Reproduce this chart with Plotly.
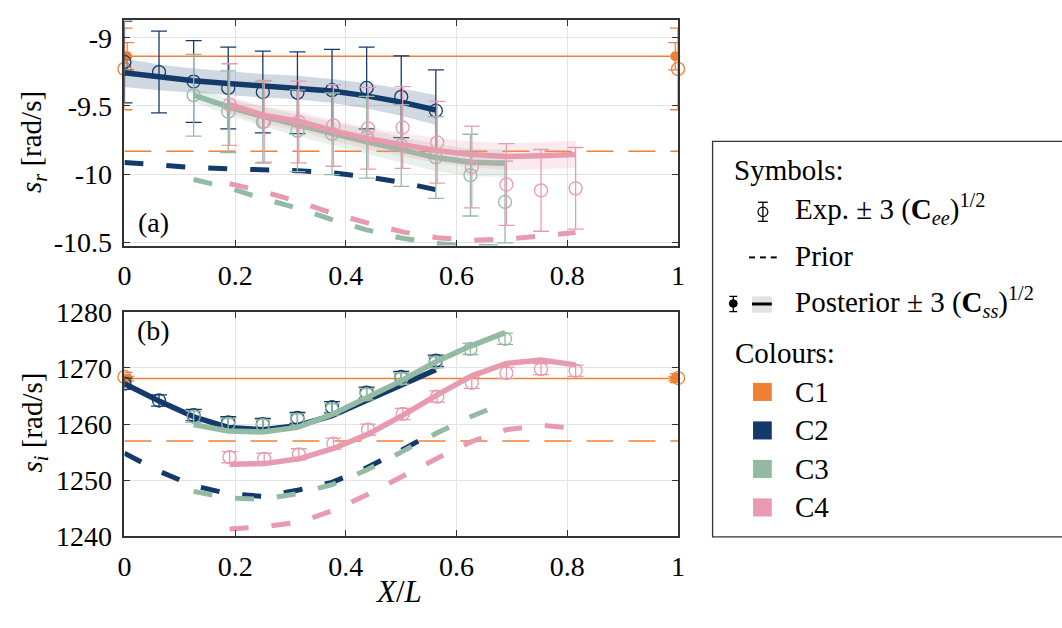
import plotly.graph_objects as go

W, H = 1062, 628

# ---------------- data ----------------
# C1: point measurements at both ends
x_c1_exp = [0.0, 1.0]
x_c1_post = [0.005, 0.995]
c1_sr_exp = [-9.228, -9.228]
c1_sr_post = [-9.135, -9.135]
c1_sr_prior = -9.833
c1_si_exp = [1268.4, 1268.2]
c1_si_post = [1268.1, 1268.1]
c1_si_prior = 1257.0
c1_sr_exp_err = [0.3, 0.3]
c1_sr_post_err = [0.1, 0.1]
c1_si_exp_err = [0.8, 0.8]
c1_si_post_err = [0.4, 0.4]

x_c2 = [0.0, 0.0625, 0.125, 0.1875, 0.25, 0.3125, 0.375, 0.4375, 0.5, 0.5625]
x_c3 = [0.125, 0.1875, 0.25, 0.3125, 0.375, 0.4375, 0.5, 0.5625, 0.625, 0.6875]
x_c4 = [0.19, 0.2525, 0.315, 0.3775, 0.44, 0.5025, 0.565, 0.6275, 0.69, 0.7525, 0.815]

# real part s_r [rad/s]
c2_sr_exp = [-9.177, -9.251, -9.321, -9.368, -9.398, -9.403, -9.384, -9.368, -9.433, -9.535]
c3_sr_exp = [-9.421, -9.542, -9.619, -9.682, -9.705, -9.730, -9.790, -9.878, -10.008, -10.205]
c4_sr_exp = [-9.490, -9.613, -9.618, -9.643, -9.664, -9.658, -9.767, -9.948, -10.077, -10.120, -10.105]
sr_exp_err = 0.3

c2_sr_post = [-9.256, -9.290, -9.315, -9.335, -9.352, -9.365, -9.390, -9.426, -9.472, -9.530]
c3_sr_post = [-9.420, -9.507, -9.577, -9.642, -9.705, -9.763, -9.821, -9.879, -9.914, -9.921]
c4_sr_post = [-9.490, -9.570, -9.612, -9.682, -9.740, -9.786, -9.828, -9.856, -9.872, -9.866, -9.856]

c2_sr_band = [0.105, 0.095, 0.09, 0.087, 0.086, 0.086, 0.088, 0.093, 0.10, 0.11]
c3_sr_band = [0.05, 0.06, 0.07, 0.08, 0.085, 0.09, 0.095, 0.10, 0.10, 0.10]
c4_sr_band = [0.06, 0.065, 0.07, 0.075, 0.08, 0.085, 0.09, 0.095, 0.10, 0.10, 0.10]

c2_sr_prior = [-9.915, -9.935, -9.952, -9.962, -9.968, -9.975, -9.990, -10.020, -10.060, -10.115]
c3_sr_prior = [-10.04, -10.10, -10.18, -10.25, -10.335, -10.41, -10.47, -10.51, -10.53, -10.535]
c4_sr_prior = [-10.07, -10.13, -10.205, -10.29, -10.36, -10.425, -10.468, -10.487, -10.478, -10.455, -10.43]

# imaginary part s_i [rad/s]
c2_si_exp = [1267.2, 1264.2, 1261.6, 1260.3, 1260.0, 1261.1, 1263.0, 1265.6, 1268.4, 1271.3]
c3_si_exp = [1261.3, 1260.0, 1259.8, 1260.8, 1262.6, 1265.3, 1268.1, 1271.0, 1273.4, 1275.2]
c4_si_exp = [1254.1, 1253.8, 1254.6, 1256.5, 1259.0, 1261.8, 1264.9, 1267.35, 1269.1, 1269.8, 1269.5]
si_exp_err = 1.0

c2_si_post = [1267.2, 1264.1, 1261.3, 1259.4, 1259.0, 1259.7, 1261.5, 1264.2, 1267.0, 1269.7]
c3_si_post = [1259.9, 1258.75, 1258.6, 1259.4, 1261.7, 1264.65, 1267.7, 1271.1, 1273.9, 1276.3]
c4_si_post = [1252.85, 1252.95, 1253.8, 1255.65, 1258.2, 1261.55, 1265.2, 1268.6, 1270.8, 1271.4, 1270.55]

c2_si_prior = [1254.8, 1251.6, 1249.0, 1247.6, 1247.1, 1248.2, 1249.6, 1252.2, 1255.3, 1258.7]
c3_si_prior = [1248.0, 1246.8, 1246.6, 1247.6, 1249.2, 1251.8, 1255.0, 1258.3, 1261.3, 1263.8]
c4_si_prior = [1241.3, 1241.7, 1242.5, 1244.6, 1247.5, 1250.8, 1253.9, 1256.9, 1259.0, 1259.8, 1259.2]

x_ticks = [0, 0.2, 0.4, 0.6, 0.8, 1]
x_ticktext = ["0", "0.2", "0.4", "0.6", "0.8", "1"]
sr_ticks = [-10.5, -10, -9.5, -9]
sr_ticktext = ["-10.5", "-10", "-9.5", "-9"]
si_ticks = [1240, 1250, 1260, 1270, 1280]
si_ticktext = ["1240", "1250", "1260", "1270", "1280"]

series_names = ["C1", "C2", "C3", "C4"]
colors = {"C1": "#F08034", "C2": "#143A6B", "C3": "#93BBA3", "C4": "#E89BAF"}
bands = {"C2": "rgba(20,58,107,0.20)", "C3": "rgba(147,187,163,0.22)", "C4": "rgba(232,155,175,0.22)"}

FONT = "Liberation Serif"

fig = go.Figure()


def add_series(name, xs, exp, err, post, band, prior, xa, ya):
    col = colors[name]
    if band is not None:
        up = [p + b for p, b in zip(post, band)]
        lo = [p - b for p, b in zip(post, band)]
        fig.add_trace(go.Scatter(x=xs + xs[::-1], y=up + lo[::-1], fill="toself",
                                 fillcolor=bands[name], line=dict(width=0),
                                 mode="lines", hoverinfo="skip", xaxis=xa, yaxis=ya))
    fig.add_trace(go.Scatter(x=xs, y=prior, mode="lines",
                             line=dict(color=col, width=5, dash="19px,23px"),
                             xaxis=xa, yaxis=ya))
    fig.add_trace(go.Scatter(x=xs, y=post, mode="lines",
                             line=dict(color=col, width=5.5),
                             xaxis=xa, yaxis=ya))
    fig.add_trace(go.Scatter(x=xs, y=exp, mode="markers",
                             marker=dict(symbol="circle-open", size=13, color=col,
                                         line=dict(width=1.3, color=col)),
                             error_y=dict(type="constant", value=err, visible=True,
                                          thickness=1.3, width=8, color=col),
                             xaxis=xa, yaxis=ya))


def add_c1(exp, exp_err, post, post_err, prior, xa, ya):
    col = colors["C1"]
    fig.add_trace(go.Scatter(x=[0, 1], y=[prior, prior], mode="lines",
                             line=dict(color=col, width=1.5, dash="27px,15px"),
                             xaxis=xa, yaxis=ya))
    fig.add_trace(go.Scatter(x=[0, 1], y=[post[0], post[0]], mode="lines",
                             line=dict(color=col, width=1.5),
                             xaxis=xa, yaxis=ya))
    fig.add_trace(go.Scatter(x=x_c1_exp, y=exp, mode="markers", cliponaxis=False,
                             marker=dict(symbol="circle-open", size=13, color=col,
                                         line=dict(width=1.3, color=col)),
                             error_y=dict(type="data", array=exp_err, visible=True,
                                          thickness=1.3, width=8, color=col),
                             xaxis=xa, yaxis=ya))
    fig.add_trace(go.Scatter(x=x_c1_post, y=post, mode="markers", cliponaxis=False,
                             marker=dict(symbol="circle", size=10, color=col),
                             error_y=dict(type="data", array=post_err, visible=True,
                                          thickness=1.3, width=7, color=col),
                             xaxis=xa, yaxis=ya))


# panel (a): real part
add_c1(c1_sr_exp, c1_sr_exp_err, c1_sr_post, c1_sr_post_err, c1_sr_prior, "x", "y")
add_series("C2", x_c2, c2_sr_exp, sr_exp_err, c2_sr_post, c2_sr_band, c2_sr_prior, "x", "y")
add_series("C3", x_c3, c3_sr_exp, sr_exp_err, c3_sr_post, c3_sr_band, c3_sr_prior, "x", "y")
add_series("C4", x_c4, c4_sr_exp, sr_exp_err, c4_sr_post, c4_sr_band, c4_sr_prior, "x", "y")

# panel (b): imaginary part
add_c1(c1_si_exp, c1_si_exp_err, c1_si_post, c1_si_post_err, c1_si_prior, "x2", "y2")
add_series("C2", x_c2, c2_si_exp, si_exp_err, c2_si_post, None, c2_si_prior, "x2", "y2")
add_series("C3", x_c3, c3_si_exp, si_exp_err, c3_si_post, None, c3_si_prior, "x2", "y2")
add_series("C4", x_c4, c4_si_exp, si_exp_err, c4_si_post, None, c4_si_prior, "x2", "y2")


def px(x):
    return x / W


def py(y):
    return 1 - y / H


axis_common = dict(showline=True, linecolor="#333333", linewidth=1.5, mirror="ticks",
                   ticks="inside", ticklen=6, tickcolor="#333333", tickwidth=1.3,
                   showgrid=True, gridcolor="#E3E3E3", gridwidth=1, zeroline=False,
                   tickfont=dict(family=FONT, size=28, color="black"))

x_dom = [px(119), px(680)]
fig.update_layout(
    width=W, height=H, margin=dict(l=0, r=0, t=0, b=0),
    paper_bgcolor="white", plot_bgcolor="white", showlegend=False,
    font=dict(family=FONT, color="black"),
    xaxis=dict(domain=x_dom, range=[0, 1], anchor="y", tickmode="array",
               tickvals=x_ticks, ticktext=x_ticktext, ticklabelstandoff=4, **axis_common),
    yaxis=dict(domain=[py(242.5), py(5.7)], range=[-10.525, -8.872], anchor="x",
               tickmode="array", tickvals=sr_ticks, ticktext=sr_ticktext,
               ticklabelstandoff=5, **axis_common),
    xaxis2=dict(domain=x_dom, range=[0, 1], anchor="y2", tickmode="array",
                tickvals=x_ticks, ticktext=x_ticktext, ticklabelstandoff=4, **axis_common),
    yaxis2=dict(domain=[py(548.3), py(312.3)], range=[1240, 1280], anchor="x2",
                tickmode="array", tickvals=si_ticks, ticktext=si_ticktext,
                ticklabelstandoff=5, **axis_common),
)

annotations = []
shapes = []


def text(x, y, s, size=29, xanchor="left", angle=0):
    annotations.append(dict(x=px(x), y=py(y), xref="paper", yref="paper", text=s,
                            showarrow=False, xanchor=xanchor, yanchor="middle",
                            textangle=angle, font=dict(family=FONT, size=size, color="black")))


# axis titles and panel tags
text(27, 134, "<i>s</i><sub><i>r</i></sub> [rad/s]", size=29, xanchor="center", angle=-90)
text(27, 429, "<i>s</i><sub><i>i</i></sub> [rad/s]", size=29, xanchor="center", angle=-90)
text(397, 606, "<i>X</i>/<i>L</i>", size=31, xanchor="center")
text(148, 218, "(a)", size=28, xanchor="center")
text(148, 332, "(b)", size=28, xanchor="center")

# legend panel
shapes.append(dict(type="rect", xref="paper", yref="paper", x0=px(715), x1=px(1075),
                   y0=py(549), y1=py(133), line=dict(color="#333333", width=1.3),
                   fillcolor="white", layer="above"))


def seg(x0, y0, x1, y1, color="black", width=1.3):
    shapes.append(dict(type="line", xref="paper", yref="paper", x0=px(x0), y0=py(y0),
                       x1=px(x1), y1=py(y1), line=dict(color=color, width=width)))


text(735, 163, "Symbols:")
# experimental symbol
seg(766, 197, 766, 217)
seg(761, 197, 771, 197)
seg(761, 217, 771, 217)
shapes.append(dict(type="circle", xref="paper", yref="paper", x0=px(761), x1=px(771),
                   y0=py(202), y1=py(212), line=dict(color="black", width=1.2)))
text(797, 204, "Exp. ± 3 (<b>C</b><sub><i>ee</i></sub>)<sup>1/2</sup>")
# prior symbol
for xa in (752, 763, 774):
    seg(xa, 255, xa + 6, 255, width=2)
text(797, 254, "Prior")
# posterior symbol
seg(736, 296, 736, 312)
seg(732, 296, 740, 296)
seg(732, 312, 740, 312)
shapes.append(dict(type="circle", xref="paper", yref="paper", x0=px(732), x1=px(740),
                   y0=py(299.5), y1=py(307.5), line=dict(color="black", width=1),
                   fillcolor="black"))
shapes.append(dict(type="rect", xref="paper", yref="paper", x0=px(755), x1=px(775),
                   y0=py(313), y1=py(296), line=dict(width=0), fillcolor="#E2E2E2"))
seg(755, 304, 775, 304, width=3)
text(797, 302, "Posterior ± 3 (<b>C</b><sub><i>ss</i></sub>)<sup>1/2</sup>")
# colour key
text(736, 356, "Colours:")
for i, name in enumerate(series_names):
    y0 = 387 + i * 40.5
    shapes.append(dict(type="rect", xref="paper", yref="paper", x0=px(756), x1=px(775),
                       y0=py(y0 + 19), y1=py(y0), line=dict(width=0),
                       fillcolor=colors[name]))
    text(796, y0 + 9.5, name)

fig.update_layout(annotations=annotations, shapes=shapes)

fig.write_html("out.html")
